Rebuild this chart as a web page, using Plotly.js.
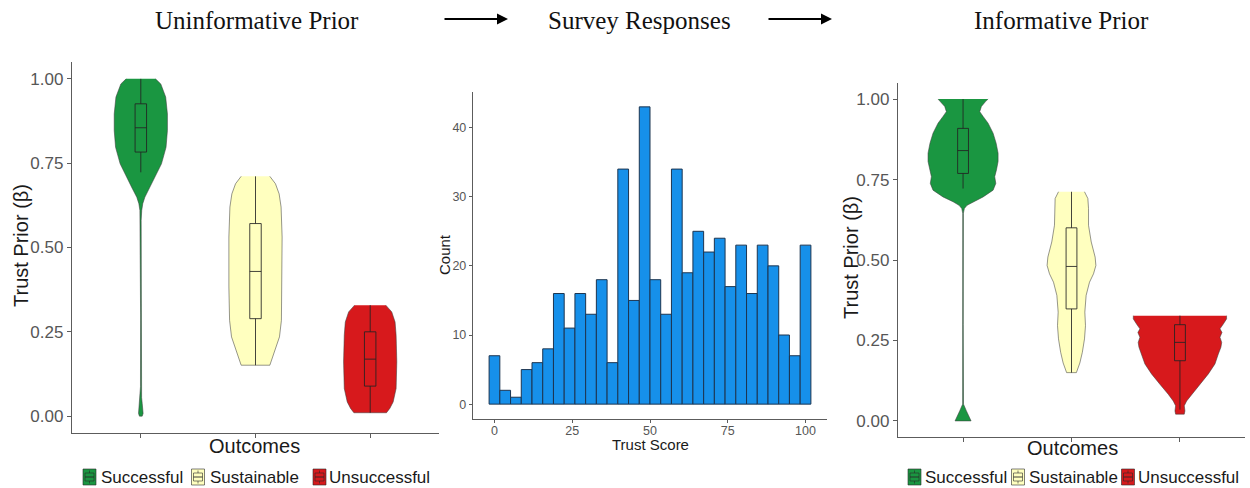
<!DOCTYPE html>
<html>
<head>
<meta charset="utf-8">
<script src="https://cdn.plot.ly/plotly-3.0.1.min.js"></script>
<style>
  html, body { margin: 0; padding: 0; background: #ffffff; }
  #chart { width: 1250px; height: 488px; }
</style>
</head>
<body>
<div id="chart"></div>
<script>
// ---------- data ----------
const outcomes = ['Successful', 'Sustainable', 'Unsuccessful'];
const outcomeColors = ['#1a9641', '#ffffbf', '#d7191c'];

// Uninformative prior: violin outlines (level, half-width in category units)
const uninfSuccessLevel = [1.00, 0.985, 0.946, 0.896, 0.847, 0.797, 0.748, 0.709, 0.679, 0.649, 0.630, 0.610, 0.580, 0.300, 0.087, 0.055, 0.038, 0.020, 0.008, 0.000];
const uninfSuccessHalf  = [0.128, 0.174, 0.217, 0.232, 0.232, 0.220, 0.180, 0.122, 0.080, 0.035, 0.017, 0.008, 0.003, 0.002, 0.003, 0.007, 0.012, 0.018, 0.020, 0.012];
const uninfSustainLevel = [0.711, 0.689, 0.659, 0.620, 0.531, 0.383, 0.284, 0.235, 0.195, 0.151];
const uninfSustainHalf  = [0.125, 0.174, 0.206, 0.223, 0.232, 0.232, 0.226, 0.209, 0.171, 0.125];
const uninfFailLevel    = [0.329, 0.309, 0.279, 0.240, 0.161, 0.082, 0.042, 0.023, 0.010];
const uninfFailHalf     = [0.136, 0.188, 0.217, 0.226, 0.232, 0.226, 0.200, 0.171, 0.142];

// Uninformative prior: box summaries per outcome
const uninfQ1     = [0.783, 0.289, 0.089];
const uninfMedian = [0.855, 0.429, 0.169];
const uninfQ3     = [0.926, 0.571, 0.250];
const uninfLow    = [0.723, 0.151, 0.010];
const uninfHigh   = [1.000, 0.711, 0.329];

// Survey responses: trust score histogram (30 bins)
const scoreBins = [0, 3.45, 6.90, 10.34, 13.79, 17.24, 20.69, 24.14, 27.59, 31.03,
                   34.48, 37.93, 41.38, 44.83, 48.28, 51.72, 55.17, 58.62, 62.07, 65.52,
                   68.97, 72.41, 75.86, 79.31, 82.76, 86.21, 89.66, 93.10, 96.55, 100];
const scoreCounts = [7, 2, 1, 5, 6, 8, 16, 11, 16, 13,
                     18, 6, 34, 15, 43, 18, 13, 34, 19, 25,
                     22, 24, 17, 23, 16, 23, 20, 10, 7, 23];
const scoreBinWidth = 3.448;
const scoreTicks = [0, 25, 50, 75, 100];
const countTicks = [0, 10, 20, 30, 40];

// Informative prior: violin outlines
const infSuccessLevel = [1.00, 0.993, 0.977, 0.961, 0.946, 0.925, 0.894, 0.863, 0.832, 0.806, 0.780, 0.759, 0.738, 0.717, 0.696, 0.681, 0.670, 0.660, 0.645, 0.300, 0.052, 0.031, 0.016, 0.000];
const infSuccessHalf  = [0.231, 0.209, 0.169, 0.154, 0.185, 0.231, 0.277, 0.305, 0.323, 0.323, 0.308, 0.292, 0.302, 0.277, 0.185, 0.092, 0.037, 0.012, 0.003, 0.002, 0.004, 0.031, 0.055, 0.074];
const infSustainLevel = [0.712, 0.691, 0.660, 0.608, 0.556, 0.509, 0.483, 0.457, 0.431, 0.390, 0.338, 0.296, 0.255, 0.213, 0.180, 0.150];
const infSustainHalf  = [0.120, 0.151, 0.157, 0.157, 0.182, 0.218, 0.225, 0.203, 0.166, 0.135, 0.123, 0.129, 0.120, 0.100, 0.077, 0.045];
const infFailLevel    = [0.327, 0.317, 0.301, 0.286, 0.275, 0.260, 0.244, 0.229, 0.208, 0.177, 0.146, 0.114, 0.083, 0.062, 0.047, 0.031, 0.021];
const infFailHalf     = [0.430, 0.430, 0.400, 0.369, 0.388, 0.369, 0.385, 0.378, 0.354, 0.323, 0.262, 0.185, 0.108, 0.062, 0.040, 0.046, 0.040];

// Informative prior: box summaries per outcome
const infQ1     = [0.769, 0.348, 0.187];
const infMedian = [0.840, 0.480, 0.244];
const infQ3     = [0.909, 0.600, 0.299];
const infLow    = [0.722, 0.150, 0.035];
const infHigh   = [1.000, 0.712, 0.327];

const priorTicks = [0, 0.25, 0.5, 0.75, 1];

// ---------- helpers ----------
const W = 1250, H = 488;
const px = x => x / W;
const py = y => 1 - y / H;
const SANS = 'Liberation Sans, Arial, sans-serif';
const SERIF = 'Liberation Serif, Times New Roman, serif';

// closed outline of a violin centred on category position `pos`
function violinTrace(pos, level, half, color, xa, ya) {
  const xs = [], ys = [];
  for (let i = 0; i < level.length; i++) { xs.push(pos + half[i]); ys.push(level[i]); }
  for (let i = level.length - 1; i >= 0; i--) { xs.push(pos - half[i]); ys.push(level[i]); }
  return {
    type: 'scatter', mode: 'lines', x: xs, y: ys, xaxis: xa, yaxis: ya,
    fill: 'toself', fillcolor: color,
    line: { color: 'rgba(60,60,60,0.6)', width: 0.9 },
    hoverinfo: 'skip', showlegend: false
  };
}

// boxes live on overlay axes so they sit on top of the violin fills
function boxTrace(pos, i, q1, med, q3, lo, hi, color, xa, ya) {
  return {
    type: 'box', orientation: 'v', x: [pos],
    q1: [q1[i]], median: [med[i]], q3: [q3[i]],
    lowerfence: [lo[i]], upperfence: [hi[i]],
    width: 0.1, whiskerwidth: 0, boxpoints: false,
    fillcolor: color, line: { color: 'rgba(35,35,35,0.85)', width: 1 },
    xaxis: xa, yaxis: ya, hoverinfo: 'skip', showlegend: false
  };
}

const traces = [];
const uninf = [[uninfSuccessLevel, uninfSuccessHalf], [uninfSustainLevel, uninfSustainHalf], [uninfFailLevel, uninfFailHalf]];
const inf = [[infSuccessLevel, infSuccessHalf], [infSustainLevel, infSustainHalf], [infFailLevel, infFailHalf]];

uninf.forEach((v, i) => {
  traces.push(violinTrace(i + 1, v[0], v[1], outcomeColors[i], 'x', 'y'));
});
uninf.forEach((v, i) => {
  traces.push(boxTrace(i + 1, i, uninfQ1, uninfMedian, uninfQ3, uninfLow, uninfHigh, outcomeColors[i], 'x4', 'y4'));
});

traces.push({
  type: 'bar', x: scoreBins, y: scoreCounts, width: scoreBinWidth,
  xaxis: 'x2', yaxis: 'y2',
  marker: { color: '#1690ea', line: { color: '#1d3550', width: 1 } },
  hoverinfo: 'skip', showlegend: false
});

inf.forEach((v, i) => {
  traces.push(violinTrace(i + 1, v[0], v[1], outcomeColors[i], 'x3', 'y3'));
});
inf.forEach((v, i) => {
  traces.push(boxTrace(i + 1, i, infQ1, infMedian, infQ3, infLow, infHigh, outcomeColors[i], 'x5', 'y5'));
});

// ---------- axes ----------
function axis(extra) {
  return Object.assign({
    showline: true, linecolor: '#5c5c5c', linewidth: 1.2,
    ticks: 'outside', ticklen: 4, tickwidth: 1, tickcolor: '#5c5c5c',
    showgrid: false, zeroline: false, fixedrange: true,
    tickfont: { family: SANS, size: 17, color: '#565656' }
  }, extra);
}
function overlayAxis(base, anchor, range) {
  return { overlaying: base, anchor: anchor, range: range, visible: false,
           showgrid: false, zeroline: false, fixedrange: true };
}

const histTickFont = { family: SANS, size: 12.5, color: '#565656' };
const catRange = [0.4, 3.6];
const priorRange = [-0.05, 1.05];

const layout = {
  width: W, height: H,
  margin: { l: 0, r: 0, t: 0, b: 0 },
  paper_bgcolor: '#ffffff', plot_bgcolor: 'rgba(0,0,0,0)',
  showlegend: false, boxmode: 'overlay',
  font: { family: SANS },
  xaxis:  axis({ domain: [px(72), px(439)], range: catRange, anchor: 'y', tickvals: [1, 2, 3], showticklabels: false }),
  yaxis:  axis({ domain: [py(433), py(62)], range: priorRange, anchor: 'x', tickvals: priorTicks, tickformat: '.2f' }),
  xaxis2: axis({ domain: [px(473), px(827)], range: [-6.9, 106.9], anchor: 'y2', tickvals: scoreTicks,
                 ticklen: 3, ticklabelstandoff: -3, tickfont: histTickFont }),
  yaxis2: axis({ domain: [py(419), py(92)], range: [-2.15, 45.15], anchor: 'x2', tickvals: countTicks,
                 ticklen: 3, tickfont: histTickFont }),
  xaxis3: axis({ domain: [px(898), px(1245)], range: catRange, anchor: 'y3', tickvals: [1, 2, 3], showticklabels: false }),
  yaxis3: axis({ domain: [py(437), py(83)], range: priorRange, anchor: 'x3', tickvals: priorTicks, tickformat: '.2f' }),
  xaxis4: overlayAxis('x', 'y4', catRange),
  yaxis4: overlayAxis('y', 'x4', priorRange),
  xaxis5: overlayAxis('x3', 'y5', catRange),
  yaxis5: overlayAxis('y3', 'x5', priorRange),
  annotations: [],
  shapes: []
};

function label(text, x, y, size, opts) {
  layout.annotations.push(Object.assign({
    text: text, xref: 'paper', yref: 'paper', x: px(x), y: py(y),
    xanchor: 'center', yanchor: 'middle', showarrow: false,
    font: { family: SANS, size: size, color: '#1a1a1a' }
  }, opts || {}));
}

// stage headings and arrows
label('Uninformative Prior', 257, 20, 25, { font: { family: SERIF, size: 25, color: '#111111' } });
label('Survey Responses', 639, 20, 25, { font: { family: SERIF, size: 25, color: '#111111' } });
label('Informative Prior', 1061, 20, 25, { font: { family: SERIF, size: 25, color: '#111111' } });
[[508, 19], [832, 19]].forEach(p => {
  layout.annotations.push({
    xref: 'paper', yref: 'paper', x: px(p[0]), y: py(p[1]), ax: -65, ay: 0,
    text: '', showarrow: true, arrowhead: 2, arrowsize: 1, arrowwidth: 2.2,
    arrowcolor: '#000000', standoff: 0, startstandoff: 0
  });
});

// axis titles
label('Trust Prior (β)', 21, 246, 20, { textangle: -90 });
label('Outcomes', 255, 446, 20);
label('Trust Score', 650, 444, 15);
label('Count', 444, 255, 15, { textangle: -90 });
label('Trust Prior (β)', 851, 258, 20, { textangle: -90 });
label('Outcomes', 1072, 448, 20);

// legends
function legendRow(keyX, textX) {
  outcomes.forEach((name, i) => {
    const k = keyX[i], c = outcomeColors[i];
    const edge = 'rgba(40,40,40,0.75)';
    layout.shapes.push({ type: 'rect', xref: 'paper', yref: 'paper',
      x0: px(k), x1: px(k + 13), y0: py(485), y1: py(469),
      fillcolor: c, line: { color: edge, width: 0.8 } });
    layout.shapes.push({ type: 'rect', xref: 'paper', yref: 'paper',
      x0: px(k + 2), x1: px(k + 11), y0: py(481), y1: py(473),
      fillcolor: c, line: { color: edge, width: 0.8 } });
    layout.shapes.push({ type: 'line', xref: 'paper', yref: 'paper',
      x0: px(k + 2), x1: px(k + 11), y0: py(477), y1: py(477),
      line: { color: edge, width: 1.2 } });
    layout.shapes.push({ type: 'line', xref: 'paper', yref: 'paper',
      x0: px(k + 6.5), x1: px(k + 6.5), y0: py(470.5), y1: py(473),
      line: { color: edge, width: 0.8 } });
    layout.shapes.push({ type: 'line', xref: 'paper', yref: 'paper',
      x0: px(k + 6.5), x1: px(k + 6.5), y0: py(481), y1: py(483.5),
      line: { color: edge, width: 0.8 } });
    label(name, textX[i], 477, 17, { xanchor: 'left' });
  });
}
legendRow([83, 191.5, 313], [99, 208, 327]);
legendRow([908, 1011.5, 1121.5], [923, 1027, 1136]);

Plotly.newPlot('chart', traces, layout, { displayModeBar: false, staticPlot: true });
</script>
</body>
</html>
